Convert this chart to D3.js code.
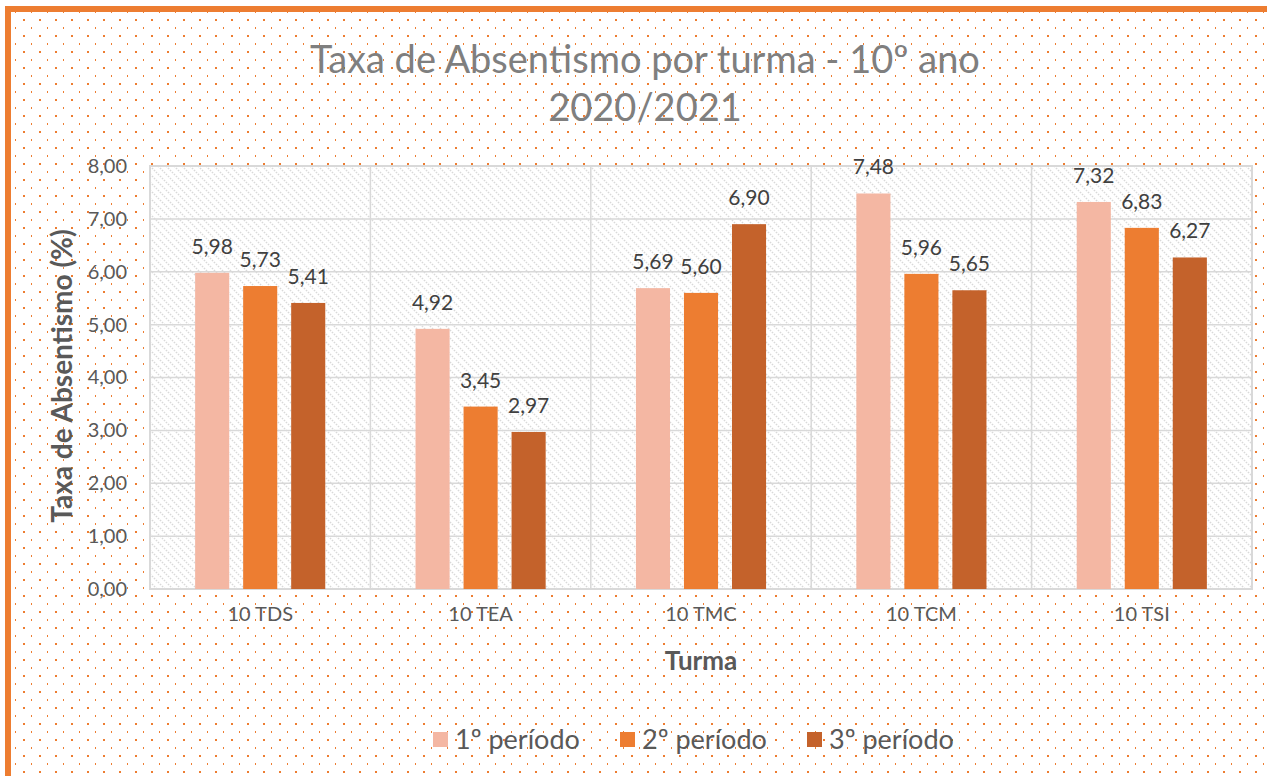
<!DOCTYPE html>
<html><head><meta charset="utf-8">
<script src="https://cdn.jsdelivr.net/npm/d3@7"></script>
<style>html,body{margin:0;padding:0;background:#fff;overflow:hidden}</style>
</head><body>
<svg id="chart" width="1267" height="776"></svg>
<script>
const categories = ["10 TDS", "10 TEA", "10 TMC", "10 TCM", "10 TSI"];
const seriesNames = ["1º período", "2º período", "3º período"];
const periodo1 = [5.98, 4.92, 5.69, 7.48, 7.32];
const periodo2 = [5.73, 3.45, 5.60, 5.96, 6.83];
const periodo3 = [5.41, 2.97, 6.90, 5.65, 6.27];
const yTicks = [0, 1, 2, 3, 4, 5, 6, 7, 8];
const colors = ["#F4B7A3", "#ED7D31", "#C4622B"];
const titleLines = ["Taxa de Absentismo por turma - 10º ano", "2020/2021"];

const seriesValues = [periodo1, periodo2, periodo3];
const FONT = "Lato, 'Open Sans', sans-serif";
const svg = d3.select("#chart");
const defs = svg.append("defs");

// dot pattern
const dots = defs.append("pattern").attr("id","dots").attr("patternUnits","userSpaceOnUse")
  .attr("width",16).attr("height",16);
dots.append("rect").attr("x",7).attr("y",3).attr("width",2).attr("height",2).attr("fill","#ED7D31");
dots.append("rect").attr("x",15).attr("y",11).attr("width",2).attr("height",2).attr("fill","#ED7D31");

// hatch pattern
const hatch = defs.append("pattern").attr("id","hatch").attr("patternUnits","userSpaceOnUse")
  .attr("width",8).attr("height",8);
hatch.append("rect").attr("width",8).attr("height",8).attr("fill","#fff");
hatch.append("path").attr("d","M0,0 L8,8 M-4,4 L4,12 M4,-4 L12,4")
  .attr("stroke","#d9d9d9").attr("stroke-width",1.5).attr("stroke-dasharray","1.5,1.3");

// background + border
svg.append("rect").attr("x",8).attr("y",9).attr("width",1400).attr("height",900)
  .attr("fill","url(#dots)").attr("stroke","#ED7D31").attr("stroke-width",6);

const plot = {left:150, right:1252, top:166, bottom:589};

const x0 = d3.scaleBand().domain(categories).range([plot.left, plot.right]).paddingInner(0).paddingOuter(0);
const x1 = d3.scaleBand().domain(seriesNames).range([0, x0.bandwidth()]).paddingInner(0.29).paddingOuter(0.94);
const y = d3.scaleLinear().domain([0, 8]).range([plot.bottom, plot.top]);

const locale = d3.formatLocale({decimal:",", thousands:".", grouping:[3], currency:["","€"]});
const fmt = locale.format(".2f");

// plot area
svg.append("rect").attr("x",plot.left).attr("y",plot.top)
  .attr("width",plot.right-plot.left).attr("height",plot.bottom-plot.top)
  .attr("fill","url(#hatch)");

// horizontal gridlines
svg.append("g").selectAll("line").data(yTicks).join("line")
  .attr("x1",plot.left).attr("x2",plot.right)
  .attr("y1",d=>y(d)).attr("y2",d=>y(d))
  .attr("stroke","#d9d9d9").attr("stroke-width",1.5);
// vertical separators
svg.append("g").selectAll("line").data(categories.slice(1)).join("line")
  .attr("x1",d=>x0(d)).attr("x2",d=>x0(d))
  .attr("y1",plot.top).attr("y2",plot.bottom)
  .attr("stroke","#d9d9d9").attr("stroke-width",1.5);
// plot border
svg.append("rect").attr("x",plot.left).attr("y",plot.top)
  .attr("width",plot.right-plot.left).attr("height",plot.bottom-plot.top)
  .attr("fill","none").attr("stroke","#d9d9d9").attr("stroke-width",2);

// bars
const groups = svg.append("g").selectAll("g").data(categories).join("g")
  .attr("transform", d=>`translate(${x0(d)},0)`);
groups.each(function(cat, ci){
  const g = d3.select(this);
  const data = seriesNames.map((s, si)=>({s, si, v: seriesValues[si][ci]}));
  g.selectAll("rect").data(data).join("rect")
    .attr("x", d=>x1(d.s)).attr("width", x1.bandwidth())
    .attr("y", d=>y(d.v)).attr("height", d=>y(0)-y(d.v))
    .attr("fill", d=>colors[d.si]);
  g.selectAll("text").data(data).join("text")
    .attr("x", d=>x1(d.s)+x1.bandwidth()/2).attr("y", d=>y(d.v)-19)
    .attr("text-anchor","middle").attr("font-family",FONT).attr("font-size",21)
    .attr("fill","#404040").text(d=>fmt(d.v));
});

// y axis labels
const yAxis = d3.axisLeft(y).tickValues(yTicks).tickFormat(fmt).tickSize(0).tickPadding(0);
const yg = svg.append("g").attr("transform",`translate(127,0)`).call(yAxis);
yg.select(".domain").remove();
yg.selectAll("text").attr("font-family",FONT).attr("font-size",20).attr("fill","#595959");

// x axis labels
const xAxis = d3.axisBottom(x0).tickSize(0).tickPadding(0);
const xg = svg.append("g").attr("transform",`translate(0,607)`).call(xAxis);
xg.select(".domain").remove();
xg.selectAll("text").attr("font-family",FONT).attr("font-size",20).attr("fill","#595959");

// axis titles
svg.append("text").attr("x",(plot.left+plot.right)/2).attr("y",670)
  .attr("text-anchor","middle").attr("font-family",FONT).attr("font-weight","bold")
  .attr("font-size",26).attr("fill","#595959").text("Turma");
svg.append("text").attr("transform",`translate(72,376) rotate(-90)`)
  .attr("text-anchor","middle").attr("font-family",FONT).attr("font-weight","bold")
  .attr("font-size",28).attr("fill","#595959").text("Taxa de Absentismo (%)");

// title
svg.append("text").attr("x",645).attr("y",73).attr("text-anchor","middle")
  .attr("font-family",FONT).attr("font-weight",400).attr("font-size",38).attr("fill","#7f7f7f")
  .text(titleLines[0]);
svg.append("text").attr("x",645).attr("y",121).attr("text-anchor","middle")
  .attr("font-family",FONT).attr("font-weight",400).attr("font-size",38).attr("fill","#7f7f7f")
  .text(titleLines[1]);

// legend
const legendX = [433, 620, 807];
const lg = svg.append("g").selectAll("g").data(seriesNames).join("g")
  .attr("transform",(d,i)=>`translate(${legendX[i]},732)`);
lg.append("rect").attr("width",15).attr("height",15).attr("fill",(d,i)=>colors[i]);
lg.append("text").attr("x",22).attr("y",17).attr("font-family",FONT).attr("font-size",27)
  .attr("fill","#595959").text(d=>d);
</script>
</body></html>
